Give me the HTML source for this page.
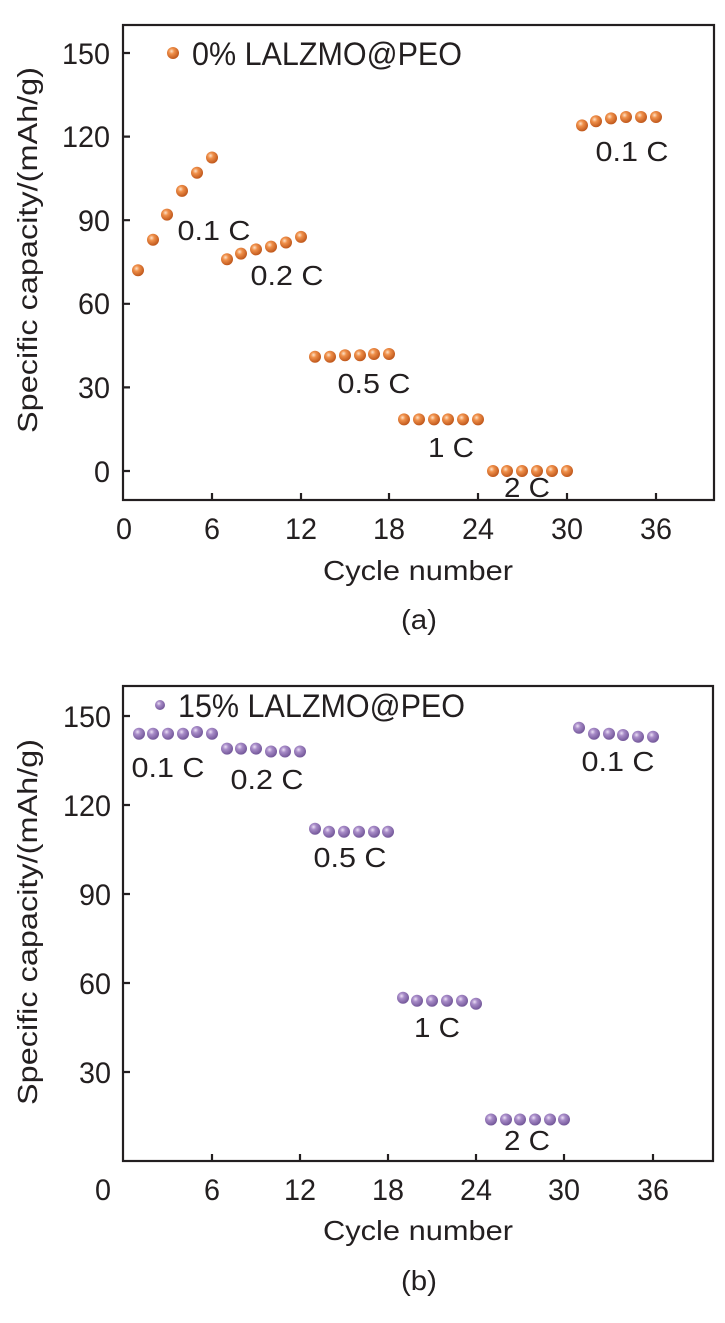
<!DOCTYPE html>
<html><head><meta charset="utf-8"><style>html,body{margin:0;padding:0;background:#fff}svg{display:block}text{font-family:"Liberation Sans",Arial,sans-serif;fill:#231f20}</style></head>
<body>
<svg width="725" height="1323" viewBox="0 0 725 1323" xmlns="http://www.w3.org/2000/svg">
<defs>
<radialGradient id="o" cx="0.38" cy="0.35" r="0.65"><stop offset="0" stop-color="#fde2c8"/><stop offset="0.35" stop-color="#f0904a"/><stop offset="1" stop-color="#c0581c"/></radialGradient>
<radialGradient id="p" cx="0.38" cy="0.35" r="0.65"><stop offset="0" stop-color="#ece0f6"/><stop offset="0.35" stop-color="#a88cc8"/><stop offset="1" stop-color="#74589a"/></radialGradient>
</defs>
<!-- Chart A -->
<g stroke="#231f20" stroke-width="2.2" fill="none">
<rect x="123" y="25" width="591" height="475"/>
<path d="M123 471h7M123 387.4h7M123 303.8h7M123 220.2h7M123 136.6h7M123 53h7M212 500v-7M301 500v-7M389 500v-7M478 500v-7M567 500v-7M656 500v-7"/>
</g>
<g font-size="30" text-anchor="end">
<text x="110" y="482" textLength="16" lengthAdjust="spacingAndGlyphs">0</text><text x="110" y="398" textLength="32" lengthAdjust="spacingAndGlyphs">30</text><text x="110" y="314" textLength="32" lengthAdjust="spacingAndGlyphs">60</text><text x="110" y="231" textLength="32" lengthAdjust="spacingAndGlyphs">90</text><text x="110" y="147" textLength="48" lengthAdjust="spacingAndGlyphs">120</text><text x="110" y="64" textLength="48" lengthAdjust="spacingAndGlyphs">150</text>
</g>
<g font-size="30" text-anchor="middle">
<text x="124" y="539" textLength="16" lengthAdjust="spacingAndGlyphs">0</text><text x="212" y="539" textLength="16" lengthAdjust="spacingAndGlyphs">6</text><text x="301" y="539" textLength="32" lengthAdjust="spacingAndGlyphs">12</text><text x="389" y="539" textLength="32" lengthAdjust="spacingAndGlyphs">18</text><text x="478" y="539" textLength="32" lengthAdjust="spacingAndGlyphs">24</text><text x="567" y="539" textLength="32" lengthAdjust="spacingAndGlyphs">30</text><text x="656" y="539" textLength="32" lengthAdjust="spacingAndGlyphs">36</text>
</g>
<g font-size="28" text-anchor="middle">
<text x="418" y="580" textLength="190" lengthAdjust="spacingAndGlyphs">Cycle number</text>
<text x="419" y="629" textLength="36" lengthAdjust="spacingAndGlyphs">(a)</text>
<text transform="translate(37,250) rotate(-90)" textLength="366" lengthAdjust="spacingAndGlyphs">Specific capacity/(mAh/g)</text>
<text x="214" y="240" textLength="73" lengthAdjust="spacingAndGlyphs">0.1 C</text><text x="287" y="285" textLength="73" lengthAdjust="spacingAndGlyphs">0.2 C</text><text x="374" y="393" textLength="73" lengthAdjust="spacingAndGlyphs">0.5 C</text><text x="451" y="457" textLength="46" lengthAdjust="spacingAndGlyphs">1 C</text><text x="527" y="497" textLength="46" lengthAdjust="spacingAndGlyphs">2 C</text><text x="632" y="161" textLength="73" lengthAdjust="spacingAndGlyphs">0.1 C</text>
</g>
<text x="192" y="65" font-size="32" textLength="270" lengthAdjust="spacingAndGlyphs">0% LALZMO@PEO</text>
<g fill="url(#o)">
<circle cx="173" cy="53" r="6"/>
<circle cx="138" cy="270.3" r="6"/><circle cx="153" cy="239.7" r="6"/><circle cx="167" cy="214.6" r="6"/><circle cx="182" cy="190.9" r="6"/><circle cx="197" cy="172.8" r="6"/><circle cx="212" cy="157.5" r="6"/>
<circle cx="227" cy="259.2" r="6"/><circle cx="241" cy="253.6" r="6"/><circle cx="256" cy="249.4" r="6"/><circle cx="271" cy="246.6" r="6"/><circle cx="286" cy="242.5" r="6"/><circle cx="301" cy="236.9" r="6"/>
<circle cx="315" cy="356.7" r="6"/><circle cx="330" cy="356.7" r="6"/><circle cx="345" cy="355.3" r="6"/><circle cx="360" cy="355.3" r="6"/><circle cx="374" cy="354" r="6"/><circle cx="389" cy="354" r="6"/>
<circle cx="404" cy="419.4" r="6"/><circle cx="419" cy="419.4" r="6"/><circle cx="434" cy="419.4" r="6"/><circle cx="448" cy="419.4" r="6"/><circle cx="463" cy="419.4" r="6"/><circle cx="478" cy="419.4" r="6"/>
<circle cx="493" cy="471" r="6"/><circle cx="507" cy="471" r="6"/><circle cx="522" cy="471" r="6"/><circle cx="537" cy="471" r="6"/><circle cx="552" cy="471" r="6"/><circle cx="567" cy="471" r="6"/>
<circle cx="582" cy="125.4" r="6"/><circle cx="596" cy="121.2" r="6"/><circle cx="611" cy="118.4" r="6"/><circle cx="626" cy="117" r="6"/><circle cx="641" cy="117" r="6"/><circle cx="656" cy="117" r="6"/>
</g>
<!-- Chart B -->
<g stroke="#231f20" stroke-width="2.2" fill="none">
<rect x="123" y="686" width="590" height="475"/>
<path d="M123 1072h7M123 983h7M123 894h7M123 805h7M123 716h7M212 1161v-7M300 1161v-7M388 1161v-7M476 1161v-7M564 1161v-7M653 1161v-7"/>
</g>
<g font-size="30" text-anchor="end">
<text x="111" y="1083" textLength="32" lengthAdjust="spacingAndGlyphs">30</text><text x="111" y="994" textLength="32" lengthAdjust="spacingAndGlyphs">60</text><text x="111" y="905" textLength="32" lengthAdjust="spacingAndGlyphs">90</text><text x="111" y="816" textLength="48" lengthAdjust="spacingAndGlyphs">120</text><text x="111" y="727" textLength="48" lengthAdjust="spacingAndGlyphs">150</text>
</g>
<g font-size="30" text-anchor="middle">
<text x="103" y="1200" textLength="16" lengthAdjust="spacingAndGlyphs">0</text><text x="212" y="1200" textLength="16" lengthAdjust="spacingAndGlyphs">6</text><text x="300" y="1200" textLength="32" lengthAdjust="spacingAndGlyphs">12</text><text x="388" y="1200" textLength="32" lengthAdjust="spacingAndGlyphs">18</text><text x="476" y="1200" textLength="32" lengthAdjust="spacingAndGlyphs">24</text><text x="564" y="1200" textLength="32" lengthAdjust="spacingAndGlyphs">30</text><text x="653" y="1200" textLength="32" lengthAdjust="spacingAndGlyphs">36</text>
</g>
<g font-size="28" text-anchor="middle">
<text x="418" y="1240" textLength="190" lengthAdjust="spacingAndGlyphs">Cycle number</text>
<text x="419" y="1290" textLength="36" lengthAdjust="spacingAndGlyphs">(b)</text>
<text transform="translate(37,922) rotate(-90)" textLength="366" lengthAdjust="spacingAndGlyphs">Specific capacity/(mAh/g)</text>
<text x="168" y="777" textLength="73" lengthAdjust="spacingAndGlyphs">0.1 C</text><text x="267" y="789" textLength="73" lengthAdjust="spacingAndGlyphs">0.2 C</text><text x="350" y="867" textLength="73" lengthAdjust="spacingAndGlyphs">0.5 C</text><text x="437" y="1037" textLength="46" lengthAdjust="spacingAndGlyphs">1 C</text><text x="527" y="1150" textLength="46" lengthAdjust="spacingAndGlyphs">2 C</text><text x="618" y="771" textLength="73" lengthAdjust="spacingAndGlyphs">0.1 C</text>
</g>
<text x="178" y="717" font-size="32" textLength="287" lengthAdjust="spacingAndGlyphs">15% LALZMO@PEO</text>
<g fill="url(#p)">
<circle cx="160" cy="705" r="5"/>
<circle cx="139" cy="733.7" r="6"/><circle cx="153" cy="733.7" r="6"/><circle cx="168" cy="733.7" r="6"/><circle cx="183" cy="733.7" r="6"/><circle cx="197" cy="732" r="6"/><circle cx="212" cy="733.7" r="6"/>
<circle cx="227" cy="748.6" r="6"/><circle cx="241" cy="748.6" r="6"/><circle cx="256" cy="748.6" r="6"/><circle cx="271" cy="751.5" r="6"/><circle cx="285" cy="751.5" r="6"/><circle cx="300" cy="751.5" r="6"/>
<circle cx="315" cy="828.7" r="6"/><circle cx="329" cy="831.7" r="6"/><circle cx="344" cy="831.7" r="6"/><circle cx="359" cy="831.7" r="6"/><circle cx="374" cy="831.7" r="6"/><circle cx="388" cy="831.7" r="6"/>
<circle cx="403" cy="997.8" r="6"/><circle cx="417" cy="1000.8" r="6"/><circle cx="432" cy="1000.8" r="6"/><circle cx="447" cy="1000.8" r="6"/><circle cx="462" cy="1000.8" r="6"/><circle cx="476" cy="1003.7" r="6"/>
<circle cx="491" cy="1119.5" r="6"/><circle cx="506" cy="1119.5" r="6"/><circle cx="520" cy="1119.5" r="6"/><circle cx="535" cy="1119.5" r="6"/><circle cx="550" cy="1119.5" r="6"/><circle cx="564" cy="1119.5" r="6"/>
<circle cx="579" cy="727.8" r="6"/><circle cx="594" cy="733.7" r="6"/><circle cx="609" cy="733.7" r="6"/><circle cx="623" cy="735" r="6"/><circle cx="638" cy="736.7" r="6"/><circle cx="653" cy="736.7" r="6"/>
</g>
</svg>
</body></html>
